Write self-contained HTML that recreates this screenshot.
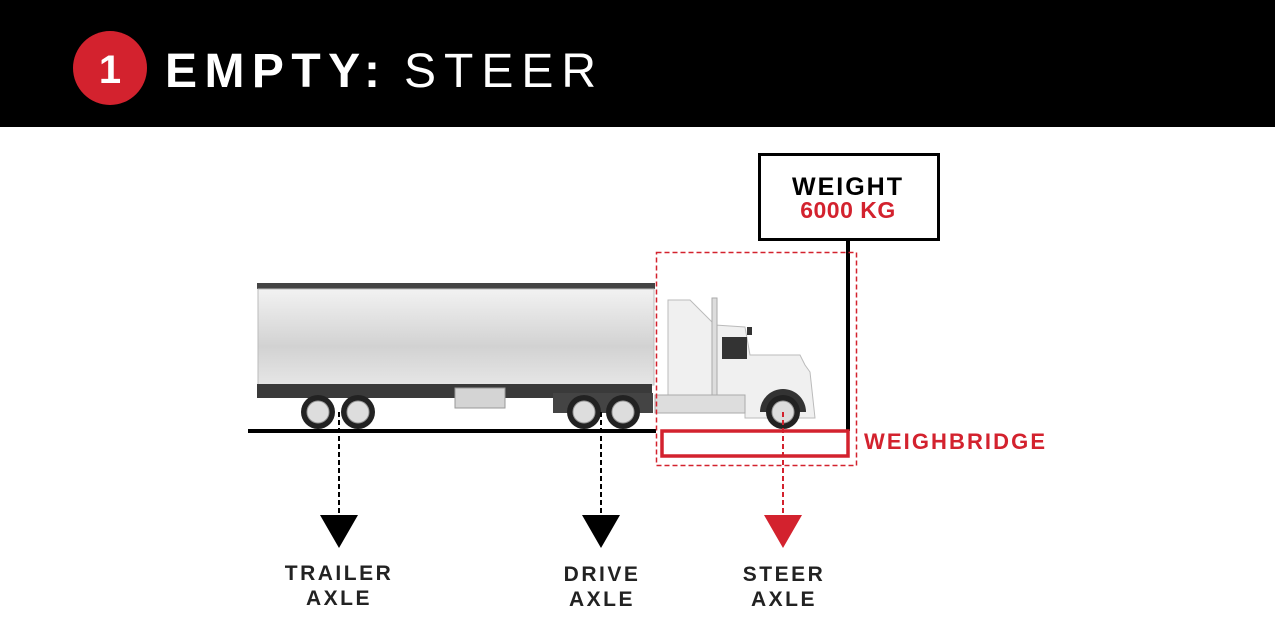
<!DOCTYPE html>
<html><head><meta charset="utf-8"><style>html,body{margin:0;padding:0;background:#fff}svg{display:block}</style></head><body>
<svg width="1275" height="638" viewBox="0 0 1275 638" xmlns="http://www.w3.org/2000/svg" font-family="Liberation Sans, sans-serif">
<defs>
<linearGradient id="tg" x1="0" y1="0" x2="0" y2="1"><stop offset="0" stop-color="#f2f2f2"/><stop offset="0.6" stop-color="#d2d2d2"/><stop offset="1" stop-color="#e6e6e6"/></linearGradient>
</defs>
<rect x="0" y="0" width="1275" height="127" fill="#000"/>
<ellipse cx="110" cy="68" rx="37" ry="37" fill="#d3222e"/>
<text x="110" y="83" fill="#fff" font-size="40" font-weight="bold" text-anchor="middle">1</text>
<text x="165" y="87" fill="#fff" font-size="48" font-weight="bold" textLength="215" lengthAdjust="spacing">EMPTY:</text>
<text x="404" y="87" fill="#fff" font-size="48" textLength="192" lengthAdjust="spacing">STEER</text>

<rect x="759.5" y="154.5" width="179" height="85" fill="#fff" stroke="#000" stroke-width="3"/>
<text x="848" y="195" font-size="25" font-weight="bold" text-anchor="middle" letter-spacing="2">WEIGHT</text>
<text x="848" y="218" font-size="23" font-weight="bold" fill="#d3222e" text-anchor="middle" letter-spacing="0.5">6000 KG</text>
<line x1="848" y1="240" x2="848" y2="431" stroke="#000" stroke-width="4"/>

<rect x="257" y="283" width="398" height="6" fill="#444"/>
<rect x="258" y="289" width="396" height="96" fill="url(#tg)" stroke="#bbb"/>
<rect x="257" y="384" width="395" height="14" fill="#3a3a3a"/>
<rect x="455" y="388" width="50" height="20" fill="#d4d4d4" stroke="#999"/>
<rect x="553" y="393" width="100" height="20" fill="#444"/>
<path d="M668 300 L690 300 L715 325 L745 327 L750 355 L800 355 L805 365 L810 372 L815 418 L745 418 L745 398 L668 398 Z" fill="#f0f0f0" stroke="#bbb"/>
<rect x="712" y="298" width="5" height="100" fill="#ddd" stroke="#aaa"/>
<rect x="722" y="337" width="25" height="22" fill="#333"/>
<rect x="747" y="327" width="5" height="8" fill="#333"/>
<rect x="655" y="395" width="90" height="18" fill="#ddd" stroke="#aaa"/>
<path d="M760 412 A23 23 0 0 1 806 412" fill="#333"/>
<g fill="#222"><circle cx="318" cy="412" r="17"/><circle cx="358" cy="412" r="17"/><circle cx="584" cy="412" r="17"/><circle cx="623" cy="412" r="17"/><circle cx="783" cy="412" r="17"/></g>
<g fill="#ddd" stroke="#999"><circle cx="318" cy="412" r="11"/><circle cx="358" cy="412" r="11"/><circle cx="584" cy="412" r="11"/><circle cx="623" cy="412" r="11"/><circle cx="783" cy="412" r="11"/></g>

<line x1="248" y1="431" x2="656" y2="431" stroke="#000" stroke-width="4"/>
<rect x="656.5" y="252.5" width="200" height="213" fill="none" stroke="#d3222e" stroke-width="1.5" stroke-dasharray="5,3"/>
<rect x="662" y="431" width="186" height="25" fill="none" stroke="#d3222e" stroke-width="3.5"/>
<text x="864" y="449" font-size="22" font-weight="bold" fill="#d3222e" textLength="181" lengthAdjust="spacing">WEIGHBRIDGE</text>

<g stroke-width="2" stroke-dasharray="5,3">
<line x1="339" y1="412" x2="339" y2="516" stroke="#000"/>
<line x1="601" y1="412" x2="601" y2="516" stroke="#000"/>
<line x1="783" y1="412" x2="783" y2="516" stroke="#d3222e"/>
</g>
<polygon points="320,515 358,515 339,548" fill="#000"/>
<polygon points="582,515 620,515 601,548" fill="#000"/>
<polygon points="764,515 802,515 783,548" fill="#d3222e"/>
<g font-size="21" font-weight="bold" fill="#222" text-anchor="middle" letter-spacing="2.5">
<text x="339" y="580">TRAILER</text><text x="339" y="605">AXLE</text>
<text x="602" y="581">DRIVE</text><text x="602" y="606">AXLE</text>
<text x="784" y="581">STEER</text><text x="784" y="606">AXLE</text>
</g>
</svg>
</body></html>
